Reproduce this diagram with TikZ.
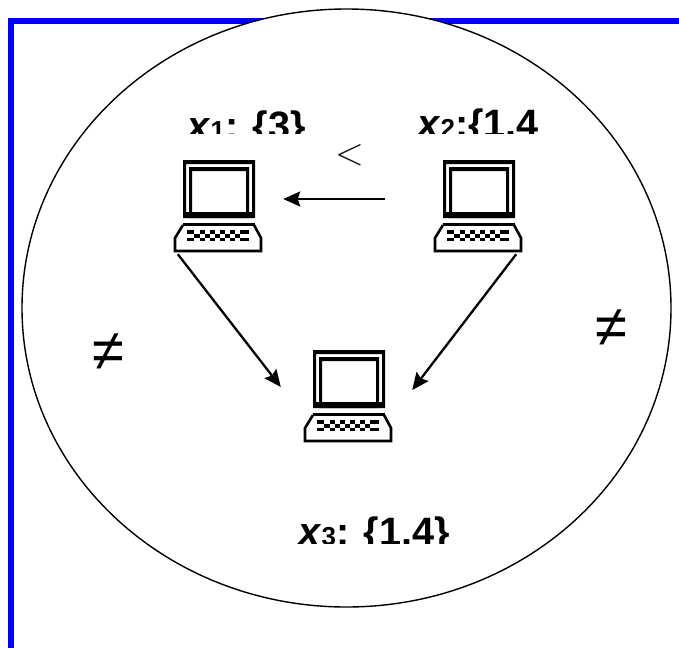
\documentclass[tikz,border=0pt]{standalone}
\usepackage{fontspec}
\setmainfont{Liberation Sans}
\usetikzlibrary{arrows.meta,shapes.geometric}
\definecolor{barblue}{RGB}{0,0,255}
\tikzset{
  x=1pt,y=-1pt,
  oval/.style={draw=black,fill=white,line width=1.4pt},
  laptopbox/.style={draw=none,inner sep=0pt,minimum width=86pt,minimum height=92pt},
  arr/.style={draw=black,line width=2.3pt,-{Stealth[length=17pt,width=15pt,inset=2.5pt]}},
  lbl/.style={inner sep=0pt,anchor=base west,font=\fontsize{39.6}{39.6}\bfseries},
  nesym/.style={inner sep=0pt,font=\fontsize{58}{58}\selectfont},
  ltsym/.style={inner sep=0pt,text=black!90,scale=3.7},
  pix/.style={fill=black,draw=none},
  pics/laptop/.style={code={
    % origin: monitor top-left
    \fill[pix,even odd rule] (0,0) rectangle (72,58) (3,4) rectangle (69,54);
    \fill[pix,even odd rule] (6,7) rectangle (66,58) (9,11) rectangle (63,52);
    \fill[pix] (0,52) rectangle (72,58);
    \fill[pix] (0,63) rectangle (72,65.5);
    \draw[line width=2.6pt,line join=miter] (0,65) -- (-8,78) -- (-8,91) -- (78,91) -- (78,78) -- (71,65);
    \foreach \a/\b in {4/11,17/22,27/32,37/42,47/52,57/66}{
      \fill[pix] (\a,70) rectangle (\b,73.5);
      \fill[pix] (\a,77.5) rectangle (\b,81);
    }
    \foreach \a/\b in {11/17,22/27,32/37,42/47,52/57}{
      \fill[pix] (\a,73.5) rectangle (\b,77.5);
    }
  }}
}
\begin{document}
\begin{tikzpicture}
\useasboundingbox (0,0) rectangle (679,648);
\fill[barblue] (8,18) rectangle (679,24);
\fill[barblue] (8,18) rectangle (14,648);
\node[oval,ellipse,minimum width=649pt,minimum height=598pt,inner sep=0pt] (ring) at (346.5,308) {};

\node[laptopbox] (l1) at (218,206) {};
\node[laptopbox] (l2) at (478,206) {};
\node[laptopbox] (l3) at (348,396) {};
\pic at (183,160) {laptop};
\pic at (443,160) {laptop};
\pic at (313,350) {laptop};

\begin{scope}
\clip (150,100) rectangle (560,133.5);
\node[lbl] (t1) at (187,139) {\textit{x}\fontsize{26}{26}\selectfont 1\fontsize{39.6}{39.6}\selectfont: \{3\}};
\node[lbl] (t2) at (417,137.5) {\textit{x}\fontsize{26}{26}\selectfont 2\fontsize{39.6}{39.6}\selectfont:\{1.4};
\end{scope}
\begin{scope}
\clip (280,500) rectangle (470,543.5);
\node[lbl] (t3) at (298,545) {\textit{x}\fontsize{26}{26}\selectfont 3\fontsize{39.6}{39.6}\selectfont: \{1.4\}};
\end{scope}

\node[ltsym] (lt) at (349.5,155) {$<$};
\node[nesym] (ne1) at (108.5,352) {≠};
\node[nesym] (ne2) at (611.5,328) {≠};

\draw[arr,shorten <=50pt,shorten >=22pt] ([yshift=7pt]l2.west) -- ([yshift=7pt]l1.east);
\draw[arr] ([xshift=3pt,yshift=-2pt]l1.south west) -- ([xshift=-24pt,yshift=9pt]l3.west);
\draw[arr] ([xshift=-5pt,yshift=-2pt]l2.south east) -- ([xshift=21pt,yshift=6pt]l3.east);
\end{tikzpicture}
\end{document}
